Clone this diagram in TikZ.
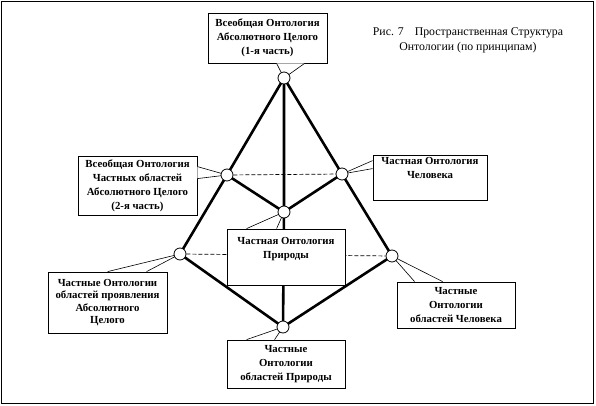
\documentclass[tikz,border=0pt]{standalone}
\usepackage{fontspec}
\setmainfont{Liberation Serif}
\usetikzlibrary{calc}
\pgfdeclarelayer{edgelayer}
\pgfdeclarelayer{boxlayer}
\pgfsetlayers{edgelayer,boxlayer,main}
\begin{document}
\begin{tikzpicture}[x=1pt,y=-1pt,
  pt/.style={circle,draw,fill=white,line width=0.8pt,minimum size=12pt,inner sep=0pt},
  edge/.style={line width=2.6pt},
  dsh/.style={line width=0.7pt,dash pattern=on 4pt off 2pt},
  box/.style={draw,fill=white,line width=0.8pt,align=center,inner sep=0pt,
    font=\bfseries\fontsize{10.8}{14}\selectfont},
  wedge/.style={draw,fill=white,line width=0.6pt}]
\useasboundingbox (0,0) rectangle (596,406);
\draw[line width=1pt] (1.5,1.5) rectangle (593.5,403.5);

% vertices
\node[pt] (T)  at (284,78)  {};
\node[pt] (L1) at (227,175) {};
\node[pt] (R1) at (342,174) {};
\node[pt] (C)  at (284,212) {};
\node[pt] (L2) at (180,254) {};
\node[pt] (R2) at (392,256) {};
\node[pt] (B)  at (283,327) {};

\begin{pgfonlayer}{edgelayer}
\draw[edge] (T.center) -- (L1.center) -- (L2.center) -- (B.center) -- (R2.center) -- (R1.center) -- (T.center);
\draw[edge] (T.center) -- (C.center) -- (B.center);
\draw[edge] (L1.center) -- (C.center) -- (R1.center);
\draw[dsh] (L1) -- (R1);
\draw[dsh] (L2) -- (R2);
\end{pgfonlayer}

\begin{pgfonlayer}{boxlayer}
% top box
\node[box,minimum width=119pt,minimum height=50pt] (bT) at (267.5,38)
  {Всеобщая Онтология\\Абсолютного Целого\\(1-я часть)};
\draw[wedge] ($(bT.south west)+(69,0)$) -- (T.center) -- ($(bT.south west)+(97,0)$);
% left middle box
\node[box,minimum width=119pt,minimum height=59pt] (bL1) at (137.5,185.5)
  {Всеобщая Онтология\\Частных областей\\Абсолютного Целого\\(2-я часть)};
\draw[wedge] ($(bL1.north east)+(0,11)$) -- (L1.center) -- ($(bL1.north east)+(0,23)$);
% right middle box
\node[box,minimum width=114pt,minimum height=45pt] (bR1) at (430,177.5)
  {Частная Онтология\\Человека\\\strut};
\draw[wedge] ($(bR1.north west)+(0,6)$) -- (R1.center) -- ($(bR1.north west)+(0,14)$);
% centre box
\node[box,minimum width=118pt,minimum height=56pt] (bC) at (286,257)
  {Частная Онтология\\Природы\\\strut};
\draw[wedge] ($(bC.north west)+(20,0)$) -- (C.center) -- ($(bC.north west)+(50,0)$);
% left lower box
\node[box,minimum width=119pt,minimum height=61pt,font=\bfseries\fontsize{10.8}{12.5}\selectfont] (bL2) at (107.5,302.5)
  {Частные Онтологии\\областей проявления\\Абсолютного\\Целого};
\draw[wedge] ($(bL2.north west)+(60,0)$) -- (L2.center) -- ($(bL2.north west)+(99,0)$);
% right lower box
\node[box,minimum width=118pt,minimum height=46pt] (bR2) at (456,305)
  {Частные\\Онтологии\\областей Человека};
\draw[wedge] ($(bR2.north west)+(18,0)$) -- (R2.center) -- ($(bR2.north west)+(46,0)$);
% bottom box
\node[box,minimum width=118pt,minimum height=48pt] (bB) at (286,364)
  {Частные\\Онтологии\\областей Природы};
\draw[wedge] ($(bB.north west)+(20,0)$) -- (B.center) -- ($(bB.north west)+(48,0)$);
\end{pgfonlayer}

% title
\node[align=center,font=\fontsize{11.8}{15}\selectfont] (title) at (468,40)
  {Рис. 7\hspace{11pt}Пространственная Структура\\Онтологии (по принципам)};
\end{tikzpicture}
\end{document}
